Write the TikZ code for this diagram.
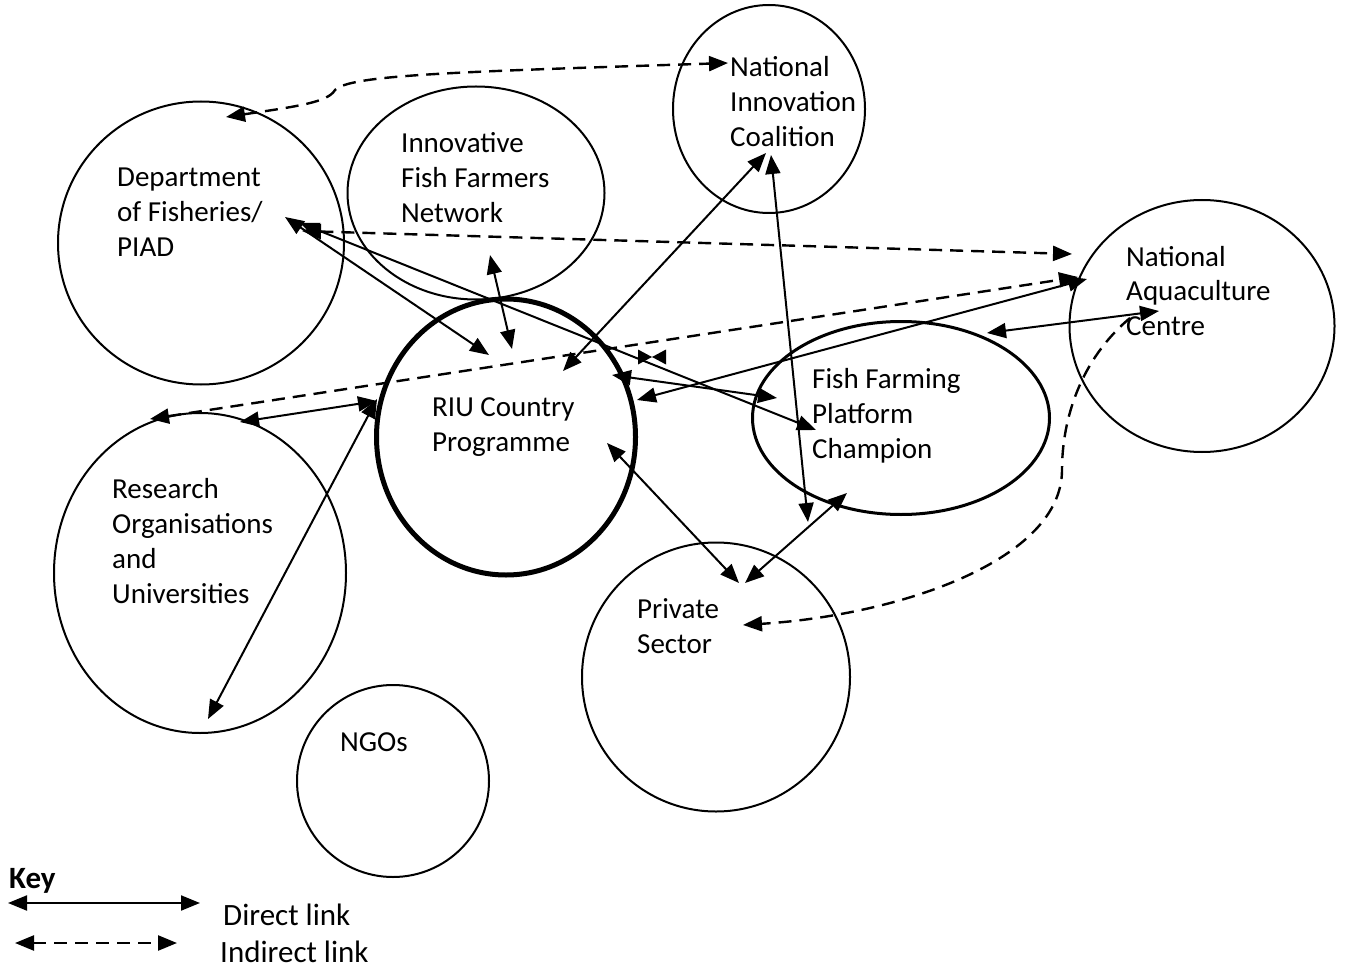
\documentclass[tikz,border=0pt]{standalone}
\usepackage{fontspec}
\setmainfont{Carlito}
\usetikzlibrary{shapes.geometric,arrows.meta}
\begin{document}
\begin{tikzpicture}[x=1pt,y=-1pt,
  blob/.style={draw, ellipse, line width=2pt, inner sep=0pt},
  lbl/.style={anchor=base west, inner sep=0pt, font=\fontsize{29}{35}\selectfont},
  keylbl/.style={anchor=base west, inner sep=0pt, font=\fontsize{31}{37}\selectfont},
  hd/.tip={Triangle[length=19pt,width=15pt]},
  lnk/.style={line width=2pt, hd-hd},
  ind/.style={lnk, line width=2.4pt, dash pattern=on 13pt off 8pt},
  indone/.style={line width=2.4pt, -hd, dash pattern=on 13pt off 8pt}]
\useasboundingbox (0,0) rectangle (1346,968);

% ---- circles / ellipses
\node[blob, minimum width=286pt, minimum height=283pt] (dof) at (201,243) {};
\node[blob, minimum width=257pt, minimum height=213pt] (iffn) at (476,193) {};
\node[blob, minimum width=192pt, minimum height=208pt] (nic) at (769,109) {};
\node[blob, minimum width=265pt, minimum height=252pt] (nac) at (1202,326) {};
\node[blob, line width=5pt, minimum width=259pt, minimum height=276pt] (riu) at (506,437) {};
\node[blob, line width=3pt, minimum width=297pt, minimum height=193pt] (ffpc) at (901,418) {};
\node[blob, minimum width=292pt, minimum height=320pt] (res) at (200,573) {};
\node[blob, minimum width=268pt, minimum height=269pt] (priv) at (716,677) {};
\node[blob, minimum width=192pt, minimum height=192pt] (ngo) at (393,781) {};

% ---- labels
\node[lbl] (tdof) at (117,187) {\vtop{\hbox{Department}\hbox{of Fisheries/}\hbox{PIAD}}};
\node[lbl] (tiffn) at (401,153) {\vtop{\hbox{Innovative}\hbox{Fish Farmers}\hbox{Network}}};
\node[lbl] (tnic) at (730,77) {\vtop{\hbox{National}\hbox{Innovation}\hbox{Coalition}}};
\node[lbl] (tnac) at (1126,266) {\vtop{\hbox{National}\hbox{Aquaculture}\hbox{Centre}}};
\node[lbl] (triu) at (432,416) {\vtop{\hbox{RIU Country}\hbox{Programme}}};
\node[lbl] (tffpc) at (812,388) {\vtop{\hbox{Fish Farming}\hbox{Platform}\hbox{Champion}}};
\node[lbl] (tres) at (112,498) {\vtop{\hbox{Research}\hbox{Organisations}\hbox{and}\hbox{Universities}}};
\node[lbl] (tpriv) at (637,618) {\vtop{\hbox{Private}\hbox{Sector}}};
\node[lbl] (tngo) at (340,751) {NGOs};

% ---- connector end points
\coordinate (a1) at (226,117);   \coordinate (a2) at (728,63);
\coordinate (b1) at (302,231);   \coordinate (b2) at (1072,254);
\coordinate (c1) at (285,217);   \coordinate (c2) at (489,355);
\coordinate (d1) at (300,223);   \coordinate (d2) at (816,430);
\coordinate (e1) at (490,255);   \coordinate (e2) at (512,349);
\coordinate (f1) at (766,153);   \coordinate (f2) at (563,371);
\coordinate (g1) at (771,155);   \coordinate (g2) at (808,522);
\coordinate (h1) at (150,419);   \coordinate (h2) at (1078,277);
\coordinate (i1) at (637,400);   \coordinate (i2) at (1087,279);
\coordinate (j1) at (240,422);   \coordinate (j2) at (377,401);
\coordinate (k1) at (208,719);   \coordinate (k2) at (377,399);
\coordinate (l1) at (612,375);   \coordinate (l2) at (777,398);
\coordinate (m1) at (607,443);   \coordinate (m2) at (739,583);
\coordinate (n1) at (847,493);   \coordinate (n2) at (745,583);
\coordinate (o1) at (987,333);   \coordinate (o2) at (1159,311);
\coordinate (p1) at (1130,318);  \coordinate (p2) at (743,625);
\coordinate (bt) at (652,357);

% ---- indirect links
\draw[ind] (a1) .. controls (300,106) and (328,102) .. (335,90)
  .. controls (350,75) and (450,72) .. (a2);
\draw[ind] (b1) -- (b2);
\draw[ind] (h1) -- (h2);
\draw[indone] (p1) .. controls (1080,360) and (1062,420) .. (1062,470)
  .. controls (1062,560) and (900,615) .. (p2);

% ---- direct links
\draw[lnk] (c1) -- (c2);
\draw[lnk] (d1) -- (d2);
\draw[lnk] (e1) -- (e2);
\draw[lnk] (f1) -- (f2);
\draw[lnk] (g1) -- (g2);
\draw[lnk] (i1) -- (i2);
\draw[lnk] (j1) -- (j2);
\draw[lnk] (k1) -- (k2);
\draw[lnk] (l1) -- (l2);
\draw[lnk] (m1) -- (m2);
\draw[lnk] (n1) -- (n2);
\draw[lnk] (o1) -- (o2);

% ---- bow-tie arrow heads
\fill (bt) -- ++(-14,-7.5) -- ++(0,15) -- cycle;
\fill (bt) -- ++(14,-7.5) -- ++(0,15) -- cycle;

% ---- key
\node[keylbl, font=\fontsize{31}{37}\selectfont\bfseries] (key) at (9,888) {Key};
\coordinate (k3) at (8,903);   \coordinate (k4) at (200,903);
\coordinate (k5) at (15,943);  \coordinate (k6) at (177,943);
\draw[lnk] (k3) -- (k4);
\draw[ind] (k5) -- (k6);
\node[keylbl] (kd) at (223,925) {Direct link};
\node[keylbl] (ki) at (220,962) {Indirect link};
\end{tikzpicture}
\end{document}
